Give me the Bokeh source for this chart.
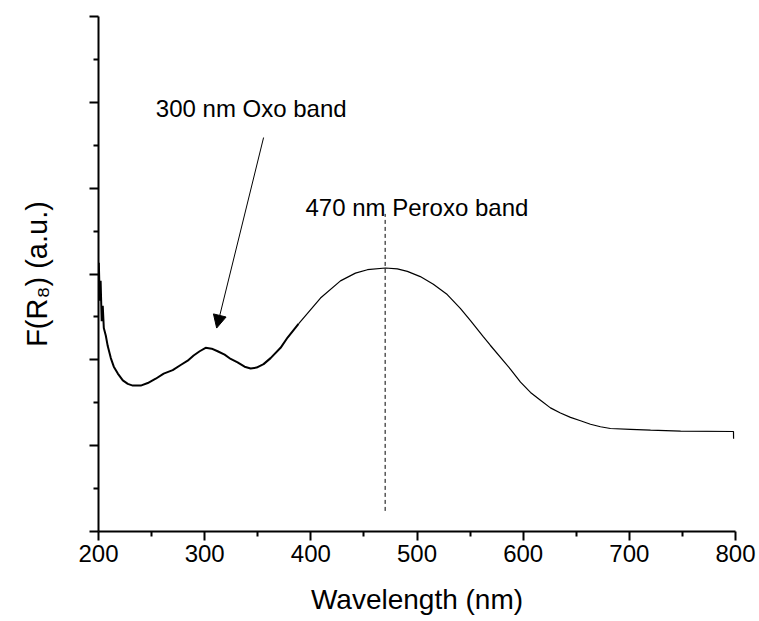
from bokeh.plotting import figure
from bokeh.models import Range1d, FixedTicker, Arrow, NormalHead, ColumnDataSource
from bokeh.core.properties import value
from bokeh.embed import file_html
from bokeh.resources import INLINE

# ---- data ----
wavelength = [200.3, 201.2, 202.0, 203.0, 204.0, 205.0, 206.9, 208.7, 211.6, 214.4,
              218.2, 222.9, 227.6, 232.3, 239.8, 246.4, 253.9, 261.4, 269.9, 277.4,
              284.0, 289.6, 295.3, 300.9, 306.6, 312.2, 318.8, 324.5, 331.0, 337.6,
              343.3, 348.9, 355.5, 362.1, 371.5, 378.1, 388.4,
              409.1, 427.9, 442.0, 453.3, 470.3, 481.5, 490.9, 503.1, 515.4, 528.5,
              540.8, 550.2, 562.4, 569.0, 588.1, 597.5, 606.9, 616.3, 625.7, 635.1,
              644.6, 654.0, 663.4, 672.8, 682.2, 701.1, 720.0, 748.3, 798.1, 798.2]
intensity = [3.13, 2.69, 2.92, 2.45, 2.63, 2.37, 2.28, 2.16, 2.02, 1.92,
             1.84, 1.76, 1.72, 1.70, 1.70, 1.73, 1.78, 1.84, 1.88, 1.94,
             1.99, 2.05, 2.10, 2.14, 2.13, 2.10, 2.06, 2.01, 1.97, 1.92,
             1.90, 1.91, 1.95, 2.02, 2.14, 2.26, 2.42,
             2.72, 2.92, 3.01, 3.05, 3.07, 3.06, 3.03, 2.97, 2.88, 2.76,
             2.60, 2.46, 2.27, 2.17, 1.89, 1.74, 1.62, 1.53, 1.44, 1.38,
             1.33, 1.29, 1.25, 1.22, 1.20, 1.19, 1.18, 1.17, 1.165, 1.08]

x_ticks = [200, 300, 400, 500, 600, 700, 800]
x_minor = [250, 350, 450, 550, 650, 750]
y_ticks = [0, 1, 2, 3, 4, 5, 6]
y_minor = [0.5, 1.5, 2.5, 3.5, 4.5, 5.5]

peroxo_x = [470]
peroxo_y0 = [0.24]
peroxo_y1 = [3.70]

oxo_arrow_start = (355.5, 4.59)
oxo_arrow_end = (311.3, 2.37)

label_text = ["300 nm Oxo band", "470 nm Peroxo band"]
label_x = [254, 395]
label_y = [4.93, 3.78]

FONT = "Liberation Sans"

p = figure(width=759, height=621, output_backend="svg", toolbar_location=None,
           x_range=Range1d(200, 800), y_range=Range1d(0, 6),
           min_border_left=98, min_border_right=24, min_border_top=16, min_border_bottom=90)
p.outline_line_color = None
p.xgrid.visible = False
p.ygrid.visible = False
p.background_fill_color = "white"
p.border_fill_color = "white"

# curve: noisy left part drawn slightly thicker
split = 37
p.line(wavelength[:split], intensity[:split], line_color="black", line_width=2.0)
p.line(wavelength[split - 1:], intensity[split - 1:], line_color="black", line_width=1.2)

# dashed marker at 470 nm
p.segment(x0=peroxo_x, y0=peroxo_y0, x1=peroxo_x, y1=peroxo_y1,
          line_color="black", line_width=1, line_dash="4 3")

# arrow to oxo band
p.add_layout(Arrow(end=NormalHead(size=13, fill_color="black", line_color="black", line_width=1),
                   x_start=oxo_arrow_start[0], y_start=oxo_arrow_start[1],
                   x_end=oxo_arrow_end[0], y_end=oxo_arrow_end[1],
                   line_color="black", line_width=1))

src = ColumnDataSource(dict(x=label_x, y=label_y, t=label_text))
p.text(x="x", y="y", text="t", source=src, text_font=value(FONT), text_font_size="24px",
       text_color="black", text_baseline="alphabetic", text_align="left")

# axes
xa = p.xaxis[0]
xa.ticker = FixedTicker(ticks=x_ticks, minor_ticks=x_minor)
xa.axis_label = "Wavelength (nm)"
ya = p.yaxis[0]
ya.ticker = FixedTicker(ticks=y_ticks, minor_ticks=y_minor)
ya.axis_label = "F(R\u2088) (a.u.)"
ya.major_label_overrides = {t: "" for t in y_ticks}

for ax in (xa, ya):
    ax.axis_line_width = 2
    ax.axis_line_color = "black"
    ax.major_tick_line_width = 2
    ax.major_tick_line_color = "black"
    ax.minor_tick_line_width = 2
    ax.minor_tick_line_color = "black"
    ax.major_tick_out = 9
    ax.major_tick_in = 0
    ax.minor_tick_out = 5
    ax.minor_tick_in = 0
    ax.major_label_text_font = FONT
    ax.major_label_text_font_size = "24px"
    ax.major_label_text_color = "black"
    ax.axis_label_text_font = FONT
    ax.axis_label_text_font_size = "28px"
    ax.axis_label_text_font_style = "normal"
    ax.axis_label_text_color = "black"

ya.axis_label_text_font_size = "29px"
xa.major_label_standoff = 4
xa.axis_label_standoff = 19
ya.major_label_standoff = 0
ya.axis_label_standoff = 37

open("out.html", "w").write(file_html(p, INLINE))
